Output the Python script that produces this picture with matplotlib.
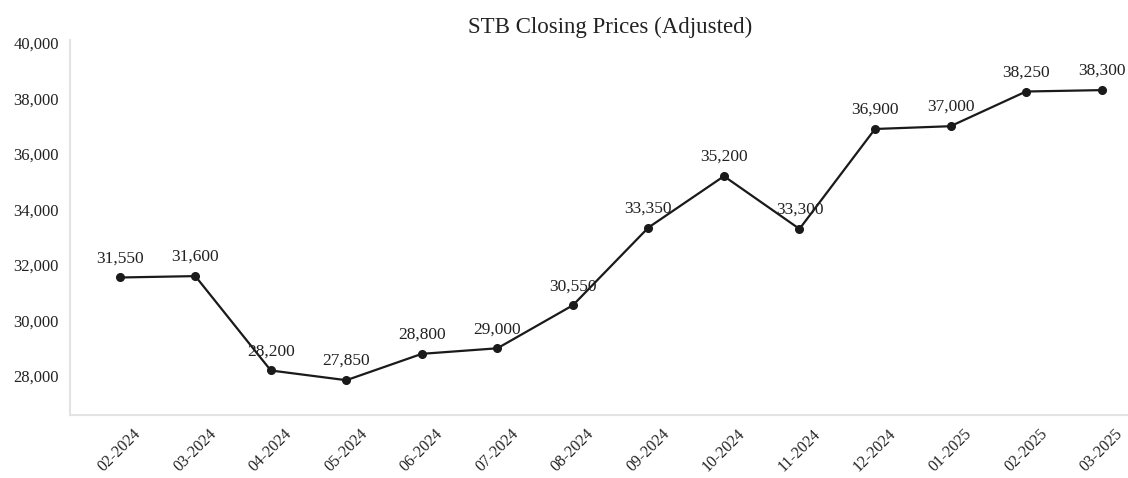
import matplotlib
matplotlib.use("Agg")
import matplotlib.pyplot as plt
from matplotlib.ticker import FuncFormatter

months = ["02-2024", "03-2024", "04-2024", "05-2024", "06-2024", "07-2024", "08-2024",
          "09-2024", "10-2024", "11-2024", "12-2024", "01-2025", "02-2025", "03-2025"]
prices = [31550, 31600, 28200, 27850, 28800, 29000, 30550,
          33350, 35200, 33300, 36900, 37000, 38250, 38300]
yticks = [28000, 30000, 32000, 34000, 36000, 38000, 40000]

plt.rcParams["font.family"] = ["Liberation Serif", "DejaVu Serif"]

fig = plt.figure(figsize=(11.28, 4.78), dpi=100)
ax = fig.add_axes([0.062, 0.132, 0.938, 0.784])

x = list(range(len(months)))
ax.plot(x, prices, color="#1a1a1a", linewidth=1.6, marker="o", markersize=5.5)

for xi, p in zip(x, prices):
    ax.annotate(f"{p:,}", (xi, p), xytext=(0, 8), textcoords="offset points",
                ha="center", va="bottom", fontsize=12.5, color="#222222")

ax.set_xlim(-0.66, 13.35)
ax.set_ylim(26600, 40100)
ax.set_yticks(yticks)
ax.yaxis.set_major_formatter(FuncFormatter(lambda v, _: f"{int(v):,}"))
ax.set_xticks(x)
ax.set_xticklabels(months, rotation=45, ha="center")
ax.tick_params(axis="both", length=0, labelsize=12, colors="#222222")
ax.tick_params(axis="x", labelsize=11.5, pad=8)
ax.tick_params(axis="y", pad=8)

for side in ["top", "right"]:
    ax.spines[side].set_visible(False)
for side in ["left", "bottom"]:
    ax.spines[side].set_color("#e3e3e3")
    ax.spines[side].set_linewidth(1.5)

fig.text(0.541, 0.943, "STB Closing Prices (Adjusted)", ha="center", va="center",
         fontsize=16.5, color="#222222")

fig.savefig("out.png", dpi=100)
